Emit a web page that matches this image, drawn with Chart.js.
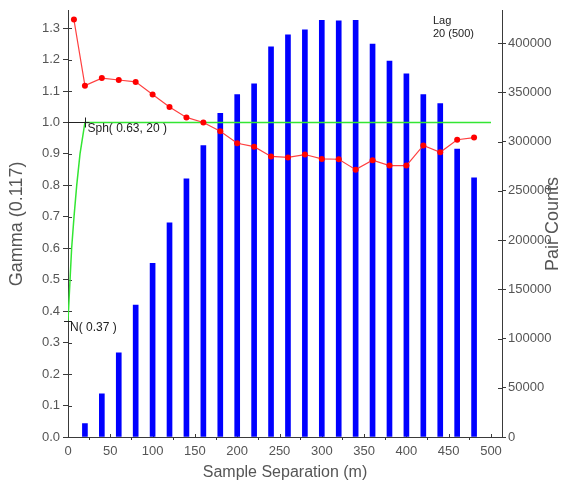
<!DOCTYPE html>
<html>
<head>
<meta charset="utf-8">
<script src="https://cdn.jsdelivr.net/npm/chart.js@4.4.1/dist/chart.umd.min.js"></script>
<style>
  html, body { margin: 0; padding: 0; background: #fff; }
  #wrap { width: 561px; height: 487px; }
</style>
</head>
<body>
<div id="wrap"><canvas id="chart" width="561" height="487"></canvas></div>
<script>
// pair counts per lag (right axis)
const lagCenters = [20, 40, 60, 80, 100, 120, 140, 160, 180, 200, 220, 240,
  260, 280, 300, 320, 340, 360, 380, 400, 420, 440, 460, 480];
const pairCounts = [13700, 43800, 85500, 134000, 176300, 217400, 262200, 295800,
  328600, 347600, 358600, 396000, 408400, 413400, 423000, 422400, 423000, 399000,
  381700, 368600, 347600, 338600, 292200, 263200];
const pairTicks = [0, 50000, 100000, 150000, 200000, 250000, 300000, 350000, 400000];

// experimental gamma (left axis)
const gammaLags = [7, 20, 40, 60, 80, 100, 120, 140, 160, 180, 200, 220, 240,
  260, 280, 300, 320, 340, 360, 380, 400, 420, 440, 460, 480];
const gammaValues = [1.327, 1.117, 1.141, 1.135, 1.129, 1.089, 1.049, 1.016, 1.0,
  0.972, 0.934, 0.923, 0.892, 0.889, 0.898, 0.884, 0.883, 0.850, 0.880, 0.863,
  0.863, 0.927, 0.905, 0.945, 0.952];

// fitted model line
const modelLags = [0, 2.4, 4.3, 7.1, 10.3, 14.2, 20, 500];
const modelValues = [0.37, 0.5, 0.6, 0.7, 0.8, 0.9, 1.0, 1.0];

const nugget = 0.37, sill = 0.63, range = 20;

const axisColor = "#3a3a3a";
const labelColor = "#555";
const fontFamily = "'Liberation Sans', Arial, sans-serif";

const extras = {
  id: "extras",
  beforeDatasetsDraw(chart) {
    // inner half of the cross-shaped ticks
    const ctx = chart.ctx;
    const { x, y, y2 } = chart.scales;
    ctx.save();
    ctx.strokeStyle = axisColor;
    ctx.lineWidth = 1;
    ctx.beginPath();
    y.ticks.forEach(t => {
      const py = Math.round(y.getPixelForValue(t.value)) + 0.5;
      ctx.moveTo(x.left, py); ctx.lineTo(x.left + 4, py);
    });
    y2.ticks.forEach(t => {
      const py = Math.round(y2.getPixelForValue(t.value)) + 0.5;
      ctx.moveTo(x.right, py); ctx.lineTo(x.right - 4, py);
    });
    x.ticks.forEach(t => {
      const px = Math.round(x.getPixelForValue(t.value)) + 0.5;
      ctx.moveTo(px, y.bottom); ctx.lineTo(px, y.bottom - 3);
    });
    ctx.stroke();
    ctx.restore();
  },
  afterDatasetsDraw(chart) {
    const ctx = chart.ctx;
    const { x, y } = chart.scales;
    ctx.save();
    ctx.strokeStyle = "#222";
    ctx.lineWidth = 1;

    // sill / range marker
    const sx = Math.round(x.getPixelForValue(range)) + 0.5;
    const sy = Math.round(y.getPixelForValue(nugget + sill)) + 0.5;
    ctx.beginPath();
    ctx.moveTo(x.getPixelForValue(0), sy); ctx.lineTo(sx + 4, sy);
    ctx.moveTo(sx, sy - 5); ctx.lineTo(sx, sy + 5);
    // nugget marker
    const nx = x.getPixelForValue(0);
    const ny = Math.round(y.getPixelForValue(nugget)) + 0.5;
    ctx.moveTo(nx - 4, ny); ctx.lineTo(nx + 4, ny);
    ctx.stroke();

    ctx.fillStyle = "#222";
    ctx.font = "12px " + fontFamily;
    ctx.textAlign = "left";
    ctx.textBaseline = "middle";
    ctx.fillText("Sph( " + sill.toFixed(2) + ", " + range + " )", sx + 2, sy + 6);
    ctx.fillText("N( " + nugget.toFixed(2) + " )", nx + 2, ny + 6);

    ctx.font = "11px " + fontFamily;
    ctx.fillText("Lag", 433, 21);
    ctx.fillText("20 (500)", 433, 34);

    // right title reads bottom-to-top like the left one
    ctx.fillStyle = labelColor;
    ctx.font = "18px " + fontFamily;
    ctx.translate(553, (y.top + y.bottom) / 2);
    ctx.rotate(-Math.PI / 2);
    ctx.textAlign = "center";
    ctx.fillText("Pair Counts", 0, 0);
    ctx.restore();
  }
};

const tickFont = { family: fontFamily, size: 13 };

new Chart(document.getElementById("chart"), {
  type: "bar",
  data: {
    datasets: [
      {
        type: "line",
        data: gammaLags.map((lag, i) => ({ x: lag, y: gammaValues[i] })),
        yAxisID: "y",
        borderColor: "#ff4040",
        borderWidth: 1.2,
        pointRadius: 3,
        pointBackgroundColor: "#ff0000",
        pointBorderWidth: 0,
        tension: 0,
        order: 1
      },
      {
        type: "line",
        data: modelLags.map((lag, i) => ({ x: lag, y: modelValues[i] })),
        yAxisID: "y",
        borderColor: "#33e633",
        borderWidth: 1.5,
        pointRadius: 0,
        tension: 0,
        order: 2
      },
      {
        type: "bar",
        data: lagCenters.map((lag, i) => ({ x: lag, y: pairCounts[i] })),
        yAxisID: "y2",
        backgroundColor: "#0000ff",
        borderWidth: 0,
        barThickness: 5,
        order: 3
      }
    ]
  },
  options: {
    responsive: false,
    animation: false,
    layout: { padding: { top: 5, left: 0, right: 0, bottom: 0 } },
    plugins: { legend: { display: false }, tooltip: { enabled: false } },
    scales: {
      x: {
        type: "linear",
        position: "bottom",
        min: 0,
        max: 513,
        offset: false,
        ticks: { stepSize: 50, includeBounds: false, font: tickFont, color: labelColor, padding: 4, maxRotation: 0 },
        grid: { drawOnChartArea: false, tickLength: 3, color: axisColor },
        border: { color: axisColor },
        title: { display: true, text: "Sample Separation (m)", color: labelColor,
          font: { family: fontFamily, size: 16 }, padding: { top: 0, bottom: 5 } },
        afterFit: s => { s.height = 50; }
      },
      y: {
        position: "left",
        min: 0,
        max: 1.355,
        ticks: { stepSize: 0.1, includeBounds: false, font: tickFont, color: labelColor, padding: 3,
          callback: v => v.toFixed(1) },
        grid: { drawOnChartArea: false, tickLength: 5, color: axisColor },
        border: { color: axisColor },
        title: { display: true, text: "Gamma (0.117)", color: labelColor,
          font: { family: fontFamily, size: 18 }, padding: { top: 6, bottom: 0 } },
        afterFit: s => { s.width = 68; }
      },
      y2: {
        position: "right",
        min: 0,
        max: 432700,
        ticks: { font: tickFont, color: labelColor, padding: 2, callback: v => String(v) },
        afterBuildTicks: s => { s.ticks = pairTicks.map(v => ({ value: v })); },
        grid: { drawOnChartArea: false, tickLength: 4, color: axisColor },
        border: { color: axisColor },
        afterFit: s => { s.width = 59; }
      }
    }
  },
  plugins: [extras]
});
</script>
</body>
</html>
